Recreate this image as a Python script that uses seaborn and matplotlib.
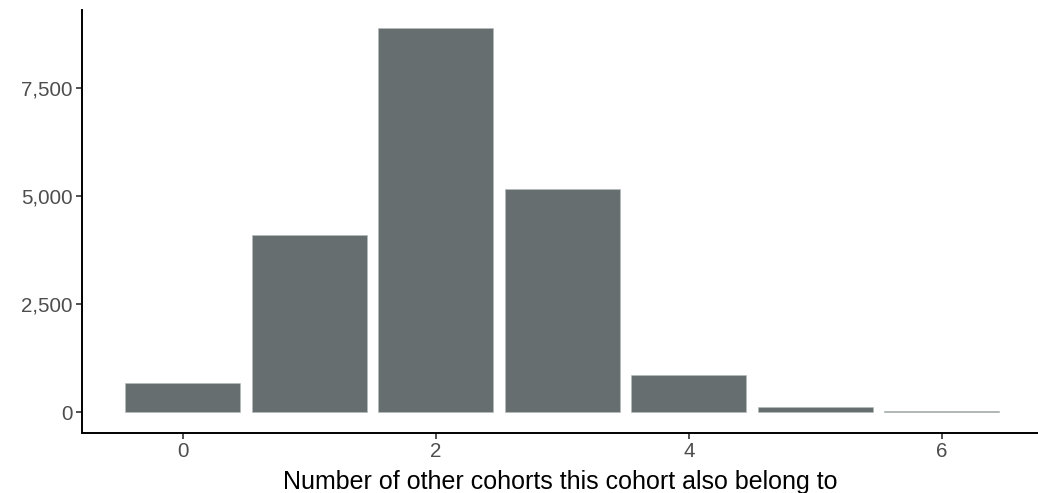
import matplotlib
matplotlib.use("Agg")
import matplotlib.pyplot as plt
import seaborn as sns
import pandas as pd
from matplotlib.ticker import FuncFormatter

n_other = [0, 1, 2, 3, 4, 5, 6]
counts = [680, 4115, 8889, 5160, 870, 115, 35]
x_label = "Number of other cohorts this cohort also belong to"

sns.set_theme(style="ticks")
plt.rcParams['font.family'] = ['Liberation Sans', 'DejaVu Sans']

df = pd.DataFrame({"n": n_other, "count": counts})

fig = plt.figure(figsize=(10.38, 4.93), dpi=100)
ax = fig.add_axes([0.079, 0.1223, 0.921, 0.8574])
sns.barplot(data=df, x="n", y="count", order=n_other, color="#676e70",
            saturation=1, width=0.91, edgecolor="#b5babb", linewidth=0.4, ax=ax)

ax.set_xlim(-0.795, 6.76)
ax.set_ylim(-472, 9312)
ax.set_yticks([0, 2500, 5000, 7500])
ax.yaxis.set_major_formatter(FuncFormatter(lambda v, p: f"{int(v):,}"))
ax.set_xticks([0, 2, 4, 6])
ax.set_xticklabels(["0", "2", "4", "6"])
ax.tick_params(axis="both", labelsize=14.8, labelcolor="#4d4d4d", color="#333333",
               length=4, width=1.2, pad=3)
ax.set_xlabel(x_label, fontsize=18, color="black", labelpad=6)
ax.set_ylabel("")
for s in ["top", "right"]:
    ax.spines[s].set_visible(False)
for s in ["left", "bottom"]:
    ax.spines[s].set_linewidth(1.4)
    ax.spines[s].set_color("black")

fig.savefig("out.png", dpi=100)
